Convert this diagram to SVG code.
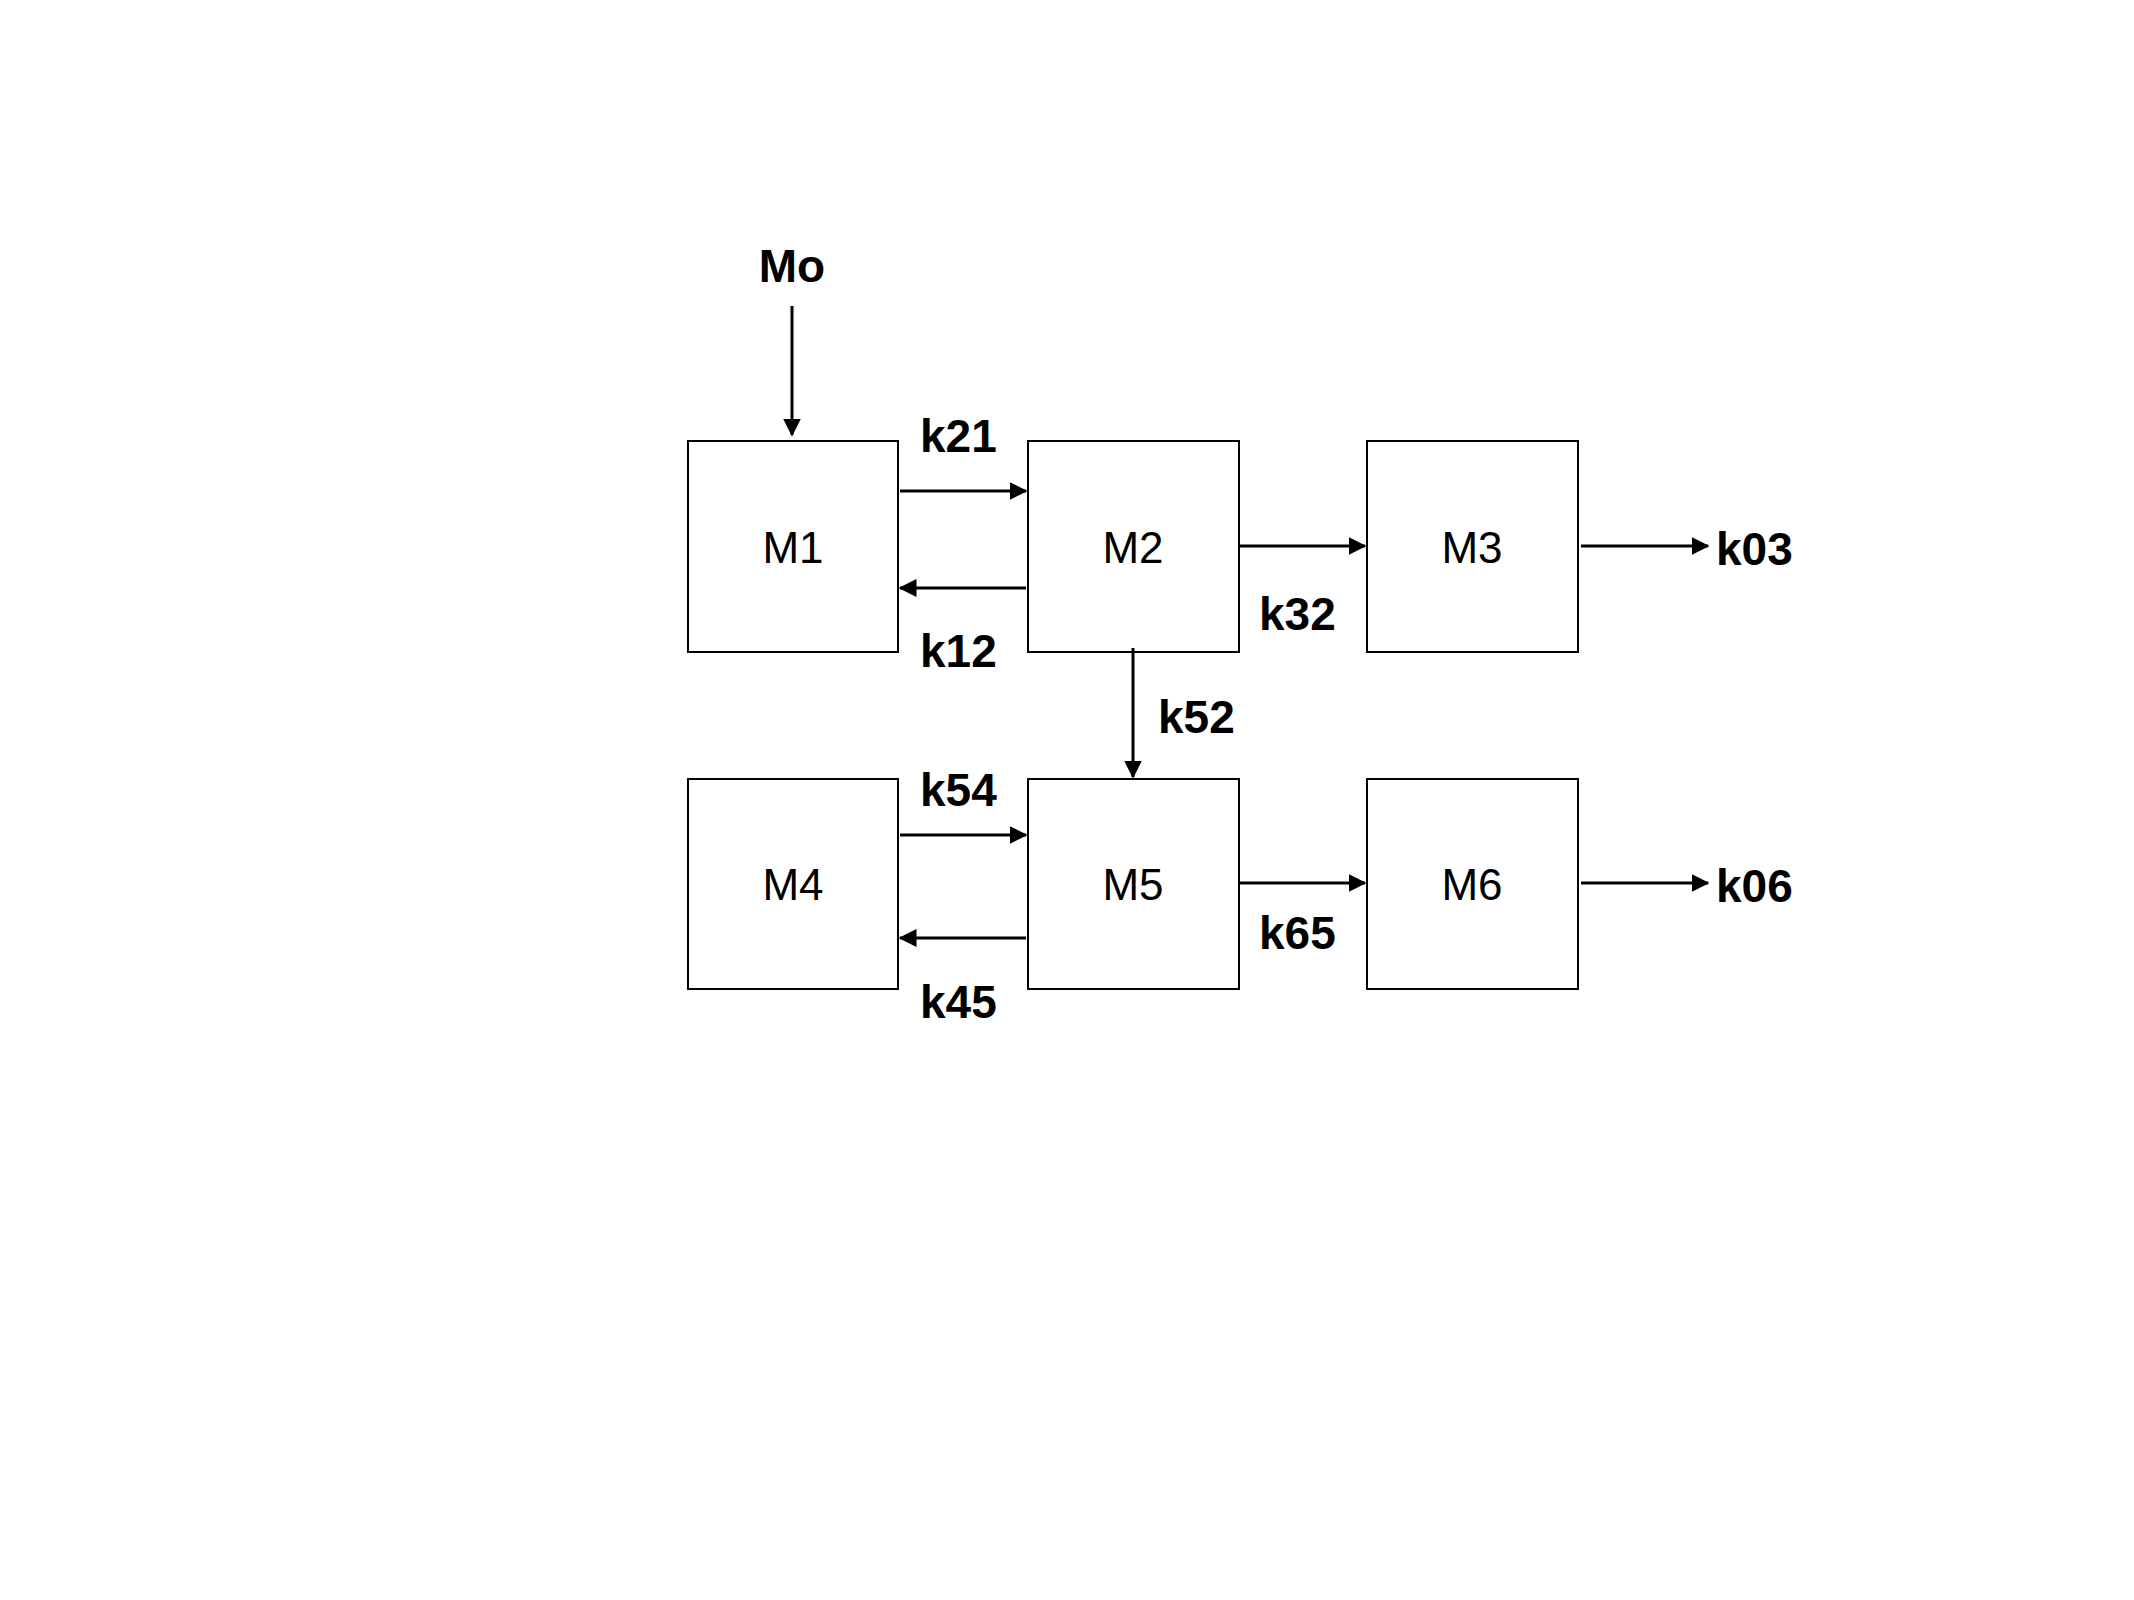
<svg xmlns="http://www.w3.org/2000/svg" width="2134" height="1600" viewBox="0 0 2134 1600">
<style>
.box{fill:#fff;stroke:#000;stroke-width:2}
.bl{font-family:"Liberation Sans",Arial,sans-serif;font-size:44px;text-anchor:middle}
.kl{font-family:"Liberation Sans",Arial,sans-serif;font-size:46px;font-weight:bold}
.c{stroke:#000;stroke-width:3;fill:none;marker-end:url(#ah)}
</style>
<defs><marker id="ah" markerWidth="6" markerHeight="6" refX="5.5" refY="3" orient="auto" markerUnits="strokeWidth"><path d="M0,0L6,3L0,6z" fill="#000"/></marker></defs>
<rect width="2134" height="1600" fill="#fff"/>
<g id="M1"><rect class="box" x="688" y="441" width="210" height="211"/><text class="bl" x="793" y="563">M1</text></g>
<g id="M2"><rect class="box" x="1028" y="441" width="211" height="211"/><text class="bl" x="1133" y="563">M2</text></g>
<g id="M3"><rect class="box" x="1367" y="441" width="211" height="211"/><text class="bl" x="1472" y="563">M3</text></g>
<g id="M4"><rect class="box" x="688" y="779" width="210" height="210"/><text class="bl" x="793" y="900">M4</text></g>
<g id="M5"><rect class="box" x="1028" y="779" width="211" height="210"/><text class="bl" x="1133" y="900">M5</text></g>
<g id="M6"><rect class="box" x="1367" y="779" width="211" height="210"/><text class="bl" x="1472" y="900">M6</text></g>
<g id="connectors">
<line class="c" x1="792" y1="306" x2="792" y2="435"/>
<line class="c" x1="900" y1="491" x2="1026" y2="491"/>
<line class="c" x1="1026" y1="588" x2="900" y2="588"/>
<line class="c" x1="1240" y1="546" x2="1365" y2="546"/>
<line class="c" x1="1581" y1="546" x2="1708" y2="546"/>
<line class="c" x1="1133" y1="648" x2="1133" y2="777"/>
<line class="c" x1="900" y1="835" x2="1026" y2="835"/>
<line class="c" x1="1026" y1="938" x2="900" y2="938"/>
<line class="c" x1="1240" y1="883" x2="1365" y2="883"/>
<line class="c" x1="1581" y1="883" x2="1708" y2="883"/>
</g>
<g id="labels">
<text class="kl" x="792" y="282" text-anchor="middle">Mo</text>
<text class="kl" x="920" y="452">k21</text>
<text class="kl" x="920" y="667">k12</text>
<text class="kl" x="1259" y="630">k32</text>
<text class="kl" x="1716" y="565">k03</text>
<text class="kl" x="1158" y="733">k52</text>
<text class="kl" x="920" y="806">k54</text>
<text class="kl" x="920" y="1018">k45</text>
<text class="kl" x="1259" y="949">k65</text>
<text class="kl" x="1716" y="902">k06</text>
</g>
</svg>
